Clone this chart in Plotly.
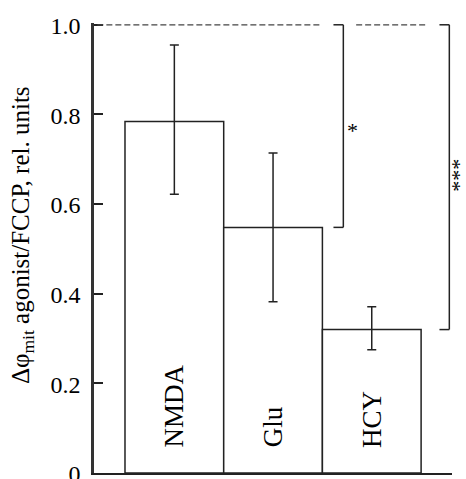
import plotly.graph_objects as go

# ---- data ----
categories = ["NMDA", "Glu", "HCY"]
values = [0.784, 0.548, 0.320]
err_plus = [0.171, 0.166, 0.051]
err_minus = [0.162, 0.166, 0.045]
ytick_vals = [0, 0.2, 0.4, 0.6, 0.8, 1.0]
ytick_text = ["0", "0.2", "0.4", "0.6", "0.8", "1.0"]
# significance comparisons: (reference bar, compared bar, label)
comparisons = [(0, 1, "*"), (0, 2, "***")]
reference_level = 1.0

FONT = "Liberation Serif"
LC = "#222222"

x_pos = list(range(len(categories)))

fig = go.Figure()
fig.add_trace(go.Bar(
    x=x_pos, y=values, width=1.0,
    marker=dict(color="white", line=dict(color=LC, width=1.5)),
    error_y=dict(type="data", symmetric=False, array=err_plus, arrayminus=err_minus,
                 color=LC, thickness=1.5, width=4.5),
    showlegend=False, hoverinfo="skip",
))

# bar labels (rotated, near base)
for i, c in enumerate(categories):
    fig.add_annotation(x=x_pos[i], y=0.052, xref="x", yref="y", text=c, textangle=-90,
                       showarrow=False, xanchor="center", yanchor="bottom",
                       font=dict(family=FONT, size=27, color="black"))

# significance brackets
bracket_x = [1.712, 2.786]
stub = 0.1
dash_start = -0.78
shapes = []
prev_end = dash_start
for k, (a, b, lab) in enumerate(comparisons):
    bx = bracket_x[k]
    shapes.append(dict(type="line", xref="x", yref="y", x0=prev_end, x1=bx - stub - 0.13,
                       y0=reference_level, y1=reference_level,
                       line=dict(color="#444", width=1.2, dash="6px,3px")))
    shapes.append(dict(type="line", xref="x", yref="y", x0=bx - stub, x1=bx,
                       y0=reference_level, y1=reference_level, line=dict(color=LC, width=1.5)))
    shapes.append(dict(type="line", xref="x", yref="y", x0=bx, x1=bx,
                       y0=reference_level, y1=values[b], line=dict(color=LC, width=1.5)))
    shapes.append(dict(type="line", xref="x", yref="y", x0=bx - stub, x1=bx,
                       y0=values[b], y1=values[b], line=dict(color=LC, width=1.5)))
    prev_end = bx + 0.13

fig.update_layout(shapes=shapes)

fig.add_annotation(x=bracket_x[0] + 0.09, y=0.765, xref="x", yref="y", text="*",
                   showarrow=False, xanchor="center", yanchor="middle",
                   font=dict(family=FONT, size=22, color="black"))
fig.add_annotation(x=1.003, y=0.665, xref="paper", yref="y", text="***",
                   textangle=90, showarrow=False, xanchor="center", yanchor="middle",
                   font=dict(family=FONT, size=22, color="black"))

# y axis title
fig.add_annotation(x=-0.198, y=0.529, xref="paper", yref="paper",
                   text="Δφ<sub>mit</sub> agonist/FCCP, rel. units", textangle=-90,
                   showarrow=False, xanchor="center", yanchor="middle",
                   font=dict(family=FONT, size=25, color="black"))

fig.update_layout(
    width=466, height=479,
    margin=dict(l=94, r=14, t=23, b=6, autoexpand=False),
    plot_bgcolor="white", paper_bgcolor="white",
    xaxis=dict(range=[-0.814, 2.813], showline=True, linecolor=LC, linewidth=1.5,
               showticklabels=False, ticks="", showgrid=False, zeroline=False,
               automargin=False),
    yaxis=dict(range=[0, 1.004], showline=True, linecolor="#333333", linewidth=2.5,
               tickvals=ytick_vals, ticktext=ytick_text, ticks="inside", ticklen=9,
               tickwidth=1.5, tickcolor=LC, showgrid=False, zeroline=False,
               ticklabeloverflow="allow", automargin=False, ticklabelshift=1,
               tickfont=dict(family=FONT, size=24, color="black"), ticklabelstandoff=6),
    font=dict(family=FONT),
)

fig.write_html("out.html", config={"displayModeBar": False},
               post_script="document.body.style.margin='0';document.body.style.overflow='hidden';")
